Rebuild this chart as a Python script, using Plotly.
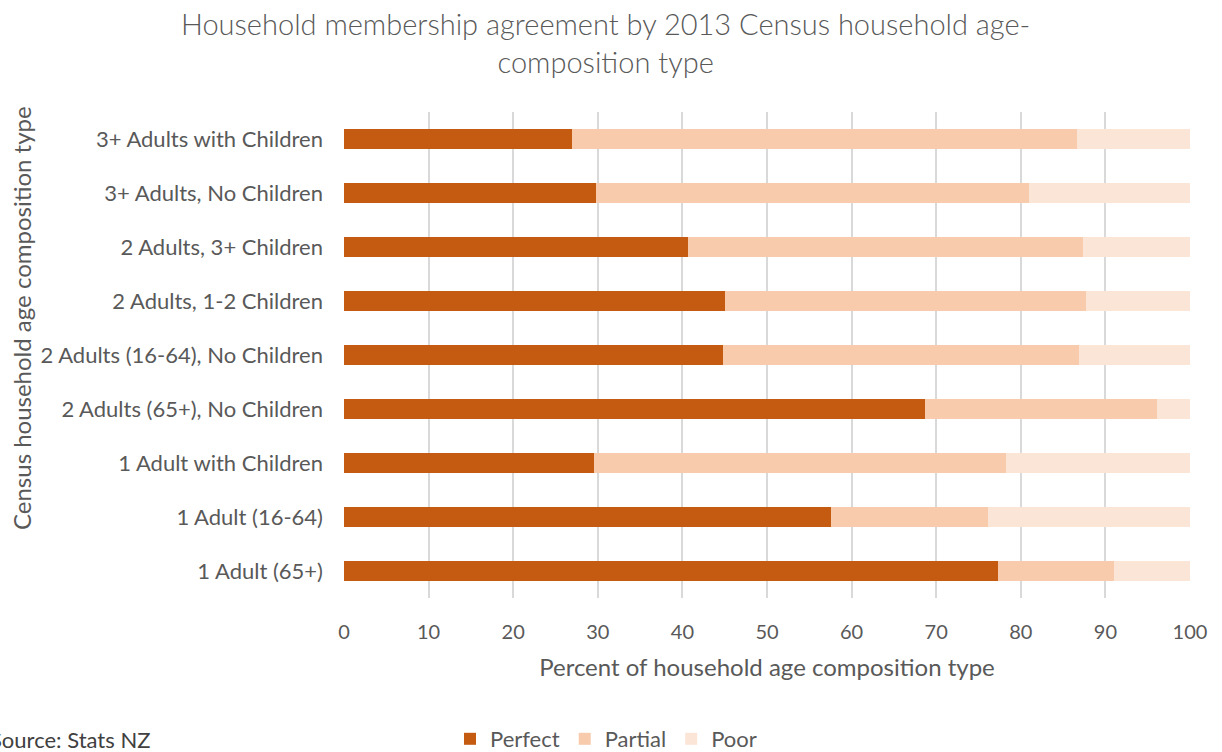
import plotly.graph_objects as go

# Household age-composition types (bottom to top as drawn)
categories = [
    "1 Adult (65+)",
    "1 Adult (16-64)",
    "1 Adult with Children",
    "2 Adults (65+), No Children",
    "2 Adults (16-64), No Children",
    "2 Adults, 1-2 Children",
    "2 Adults, 3+ Children",
    "3+ Adults, No Children",
    "3+ Adults with Children",
]

# Percent of each household type by membership agreement
perfect = [77.3, 57.6, 29.5, 68.7, 44.8, 45.0, 40.7, 29.8, 27.0]
partial = [13.7, 18.5, 48.7, 27.4, 42.1, 42.7, 46.6, 51.2, 59.6]
poor = [round(100 - a - b, 1) for a, b in zip(perfect, partial)]

series = [
    ("Perfect", perfect, "#C55A11"),
    ("Partial", partial, "#F8CBAD"),
    ("Poor", poor, "#FBE5D6"),
]

GREY = "#595959"
FONT = "Lato"

# plot area in pixels (used to place paper-referenced annotations)
W, H = 1222, 752
ML, MR, MT, MB = 344, 32, 112, 154
PW, PH = W - ML - MR, H - MT - MB


def px_x(x):
    return (x - ML) / PW


def px_y(y):
    return (H - MB - y) / PH


fig = go.Figure()
for name, vals, color in series:
    fig.add_trace(go.Bar(
        y=categories, x=vals, name=name, orientation="h",
        marker=dict(color=color, line=dict(width=0)),
    ))

fig.update_layout(
    barmode="stack",
    bargap=0.645,
    width=W, height=H,
    margin=dict(l=ML, r=MR, t=MT, b=MB, autoexpand=False),
    paper_bgcolor="white", plot_bgcolor="white",
    font=dict(family=FONT, color=GREY, size=22),
    xaxis=dict(
        range=[0, 100], dtick=10, showgrid=True, gridcolor="#D9D9D9", gridwidth=1.5,
        zeroline=False, showline=False, ticks="", ticklabelstandoff=20,
        tickfont=dict(size=20, color=GREY), automargin=False,
        title=dict(text="Percent of household age composition type",
                   font=dict(size=24, color=GREY), standoff=17),
    ),
    yaxis=dict(
        showgrid=False, zeroline=False, showline=False, ticks="",
        ticklabelstandoff=20, tickfont=dict(size=22, color=GREY), automargin=False,
    ),
    legend=dict(
        orientation="h", x=px_x(606), xanchor="center", y=px_y(739), yanchor="middle",
        font=dict(size=22, color=GREY), traceorder="normal",
        itemwidth=30,
    ),
    annotations=[
        dict(text="Household membership agreement by 2013 Census household age-<br>composition type",
             xref="paper", yref="paper", x=px_x(605), xanchor="center",
             y=px_y(42), yanchor="middle", showarrow=False,
             font=dict(family=FONT, size=29, color=GREY, weight=300)),
        dict(text="Census household age composition type", textangle=-90,
             xref="paper", yref="paper", x=px_x(21), xanchor="center",
             y=px_y(318), yanchor="middle", showarrow=False,
             font=dict(size=24, color=GREY)),
        dict(text="Source: Stats NZ", xref="paper", yref="paper",
             x=px_x(-12), xanchor="left", y=px_y(739), yanchor="middle",
             showarrow=False, font=dict(size=22, color="#404040")),
    ],
)

fig.write_html("out.html")
